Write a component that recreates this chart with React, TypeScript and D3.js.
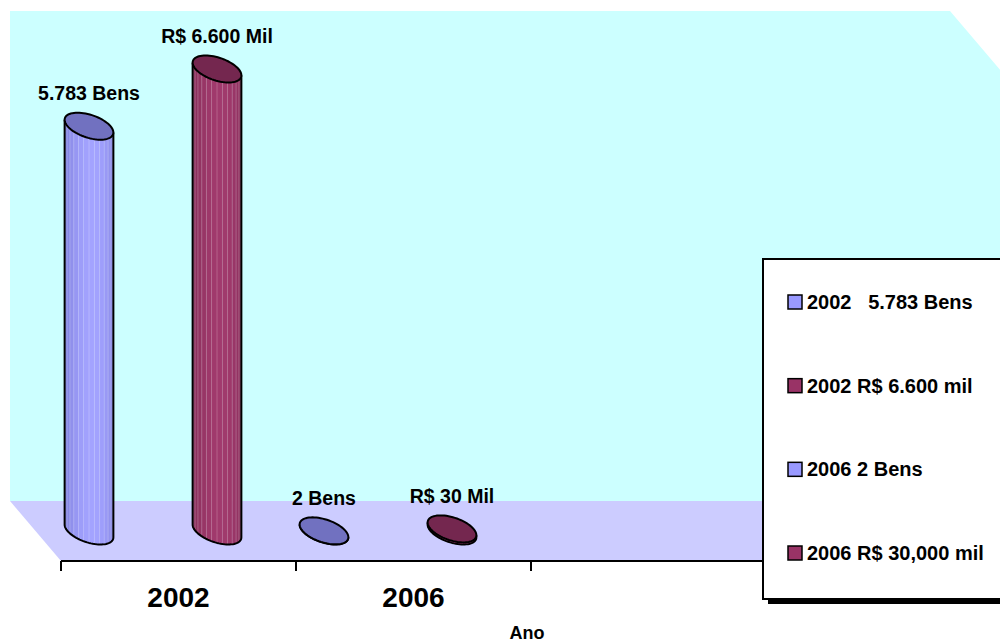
import React from "react";
import * as d3 from "d3";

// Categories along the floor: four slots, only the first two are labelled
const categories = ["2002", "2006", "", ""];
const seriesKeys = ["bens", "mil"];
// Values per category (2002, 2006)
const bensValues = [5783, 2];
const milValues = [6600, 30];
const bensLabels = ["5.783 Bens", "2 Bens"];
const milLabels = ["R$ 6.600 Mil", "R$ 30 Mil"];
const legendLabels = ["2002   5.783 Bens", "2002 R$ 6.600 mil", "2006 2 Bens", "2006 R$ 30,000 mil"];
const legendSeries = ["bens", "mil", "bens", "mil"];
const valueMax = 7000;

const W = 1000;
const H = 644;
const FONT = "'Liberation Sans', Arial, Helvetica, sans-serif";

const palette: Record<string, { base: string; dark: string; light: string; cap: string }> = {
  bens: { base: "#9999FF", dark: "#7f7fdc", light: "#a3a3ff", cap: "#7171c0" },
  mil: { base: "#993366", dark: "#862c58", light: "#a13a6d", cap: "#74274f" },
};

// Oblique projection of the depth axis (back is up-left of front)
const DEPTH_DX = -51;
const DEPTH_DY = -60;
const CYL_DEPTH = 0.225; // cylinder radius as a fraction of floor depth

const x = d3.scaleBand<number>().domain(d3.range(categories.length)).range([61, 1001]).padding(0);
const xs = d3.scaleBand<string>().domain(seriesKeys).range([0, x.bandwidth()]).paddingInner(0.664).paddingOuter(0.25);
const y = d3.scaleLinear().domain([0, valueMax]).range([561, 71]);

const back = (px: number, py: number, f: number) => [px + DEPTH_DX * f, py + DEPTH_DY * f];

function ellipsePoint(cx: number, cy: number, r: number, phi: number) {
  return [
    cx + r * Math.cos(phi) + Math.sin(phi) * CYL_DEPTH * DEPTH_DX,
    cy + Math.sin(phi) * CYL_DEPTH * DEPTH_DY,
  ];
}

function Cylinder({ cx, yTop, yBot, r, key2 }: { cx: number; yTop: number; yBot: number; r: number; key2: string }) {
  const col = palette[key2];
  const alpha = Math.atan2(-CYL_DEPTH * DEPTH_DX, r);
  const phiStart = Math.PI - alpha;
  const phiEnd = 2 * Math.PI - alpha;
  const n = 14;
  const phis = d3.range(n + 1).map((i) => phiStart + ((phiEnd - phiStart) * i) / n);
  const shade = d3.interpolateRgb(col.dark, col.light);
  const facets = d3.range(n).map((i) => {
    const p1 = phis[i];
    const p2 = phis[i + 1];
    const t1 = ellipsePoint(cx, yTop, r, p1);
    const t2 = ellipsePoint(cx, yTop, r, p2);
    const b1 = ellipsePoint(cx, yBot, r, p1);
    const b2 = ellipsePoint(cx, yBot, r, p2);
    const mid = (p1 + p2) / 2;
    const k = Math.cos(mid - (1.5 * Math.PI - 0.35));
    return { pts: [t1, t2, b2, b1], fill: shade(Math.max(0, k) ** 1.5), edge: b1, edgeTop: t1, i };
  });
  const bottomArc = d3.range(41).map((i) => ellipsePoint(cx, yBot, r, phiStart + ((phiEnd - phiStart) * i) / 40));
  const leftTop = ellipsePoint(cx, yTop, r, phiStart);
  const rightTop = ellipsePoint(cx, yTop, r, phiEnd);
  const outline = d3.line()([leftTop, ...bottomArc, rightTop] as [number, number][]);
  const capPts = d3.range(72).map((i) => ellipsePoint(cx, yTop, r, (2 * Math.PI * i) / 72));
  const cap = d3.line().curve(d3.curveLinearClosed)(capPts as [number, number][]);
  return (
    <g>
      {facets.map((f) => (
        <polygon key={f.i} points={f.pts.map((p) => p.join(",")).join(" ")} fill={f.fill} stroke={f.fill} strokeWidth={0.5} />
      ))}
      {facets.slice(1).map((f) => (
        <line key={"e" + f.i} x1={f.edgeTop[0]} y1={f.edgeTop[1]} x2={f.edge[0]} y2={f.edge[1]} stroke="#ffffff" strokeOpacity={0.28} strokeWidth={0.8} />
      ))}
      <path d={outline as string} fill="none" stroke="#000" strokeWidth={2} strokeLinejoin="round" />
      <path d={cap as string} fill={col.cap} stroke="#000" strokeWidth={2} />
    </g>
  );
}

export default function App() {
  const x0 = x.range()[0];
  const x1 = x.range()[1];
  const yBase = y(0);
  const yMaxFront = y(valueMax);
  const [bx0, by0] = back(x0, yBase, 1);
  const [bx1] = back(x1, yBase, 1);
  const [, byTop] = back(x0, yMaxFront, 1);

  const wallPts = [
    [bx0, byTop], [bx1, byTop], [x1, yMaxFront], [x1, yBase], [bx1, by0], [bx0, by0],
  ];
  const floorPts = [[bx0, by0], [bx1, by0], [x1, yBase], [x0, yBase]];

  const r = xs.bandwidth() / 2;
  const bars: { cx: number; yTop: number; yBot: number; key2: string; label: string; ci: number }[] = [];
  [bensValues, milValues].forEach((vals, si) => {
    const key2 = seriesKeys[si];
    const labels = si === 0 ? bensLabels : milLabels;
    vals.forEach((v, ci) => {
      const fx = (x(ci) as number) + (xs(key2) as number) + r;
      const [cx, yBot] = back(fx, y(0), 0.5);
      const [, yTop] = back(fx, y(v), 0.5);
      bars.push({ cx, yTop, yBot, key2, label: labels[ci], ci });
    });
  });
  bars.sort((a, b) => a.cx - b.cx);

  const ticks = d3.range(categories.length + 1).map((i) => x0 + i * x.step());
  const capHalf = -CYL_DEPTH * DEPTH_DY;

  const legendX = 763;
  const legendY = 259;
  const legendRowY = d3.scaleLinear().domain([0, legendLabels.length - 1]).range([302, 553]);

  return (
    <div style={{ position: "fixed", left: 0, top: 0, width: W, height: H, background: "#fff" }}>
      <svg width={W} height={H} style={{ display: "block", fontFamily: FONT }}>
        <rect width={W} height={H} fill="#fff" />
        <polygon points={wallPts.map((p) => p.join(",")).join(" ")} fill="#CCFFFF" />
        <polygon points={floorPts.map((p) => p.join(",")).join(" ")} fill="#CCCCFF" />

        {bars.map((b, i) => (
          <Cylinder key={i} cx={b.cx} yTop={b.yTop} yBot={b.yBot} r={r} key2={b.key2} />
        ))}
        {bars.map((b, i) => (
          <text key={"l" + i} x={b.cx} y={b.yTop - capHalf - 12.5} textAnchor="middle" fontSize={19.5} fontWeight="bold" fill="#000">
            {b.label}
          </text>
        ))}

        {/* category axis along the front edge of the floor */}
        <line x1={x0} x2={x1} y1={yBase} y2={yBase} stroke="#000" strokeWidth={2} />
        {ticks.map((t, i) => (
          <line key={"t" + i} x1={t} x2={t} y1={yBase} y2={yBase + 10} stroke="#000" strokeWidth={2} />
        ))}
        {categories.map((c, i) => (
          <text key={"c" + i} x={(x(i) as number) + x.bandwidth() / 2} y={607} textAnchor="middle" fontSize={28} fontWeight="bold">
            {c}
          </text>
        ))}
        <text x={527} y={639} textAnchor="middle" fontSize={18} fontWeight="bold">Ano</text>

        {/* legend */}
        <rect x={legendX + 5} y={legendY + 5} width={280} height={340} fill="#000" />
        <rect x={legendX} y={legendY} width={280} height={340} fill="#fff" stroke="#000" strokeWidth={2} />
        {legendLabels.map((lab, i) => (
          <g key={"lg" + i} transform={`translate(${legendX + 25},${legendRowY(i)})`}>
            <rect x={0} y={-7} width={14} height={14} fill={palette[legendSeries[i]].base} stroke="#000" strokeWidth={1.5} />
            <text x={19} y={7} fontSize={20} fontWeight="bold" style={{ whiteSpace: "pre" }}>
              {lab}
            </text>
          </g>
        ))}
      </svg>
    </div>
  );
}
